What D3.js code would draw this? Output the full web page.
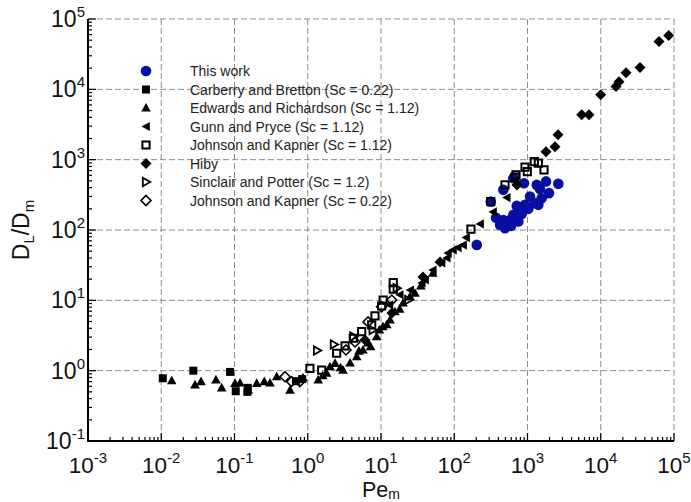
<!DOCTYPE html>
<html><head><meta charset="utf-8">
<script src="https://cdn.jsdelivr.net/npm/d3@7"></script>
<style>
body{margin:0;background:#fff}
svg{display:block;font-family:Arial,"Liberation Sans",sans-serif}
</style>
</head><body>
<svg id="c" width="691" height="502"></svg>
<script>
// ---- data ----
const xTickExps = [-3,-2,-1,0,1,2,3,4,5];
const yTickExps = [-1,0,1,2,3,4,5];
const seriesNames = [
  "This work",
  "Carberry and Bretton (Sc = 0.22)",
  "Edwards and Richardson (Sc = 1.12)",
  "Gunn and Pryce (Sc = 1.12)",
  "Johnson and Kapner (Sc = 1.12)",
  "Hiby",
  "Sinclair and Potter (Sc = 1.2)",
  "Johnson and Kapner (Sc = 0.22)"
];
const thisWork = [[203,61.4],[315,253],[468,372],[640,546],[896,463],[1336,438],[1790,491],[2634,453],[1482,384],[1082,299],[1966,334],[1563,283],[713,220],[925,228],[1265,241],[790,183],[1026,200],[640,164],[834,169],[577,139],[750,132],[468,139],[422,118],[493,106],[372,149],[1406,228],[596,114]];
const carberry = [[0.0105,0.78],[0.0274,1.0],[0.087,0.96],[0.104,0.51],[0.150,0.50],[0.152,0.57],[0.69,0.71],[0.84,0.76]];
const edwards = [[0.0139,0.72],[0.0289,0.63],[0.0349,0.70],[0.0558,0.74],[0.0668,0.57],[0.1016,0.66],[0.119,0.67],[0.154,0.53],[0.201,0.66],[0.255,0.70],[0.305,0.67],[0.377,0.82],[0.573,0.53],[0.86,0.79],[1.39,0.74],[1.81,0.92],[2.01,1.14],[2.36,1.27],[3.03,1.02],[3.78,1.29],[4.66,1.58],[5.68,1.97],[6.65,2.48],[8.73,3.05],[10.6,4.23],[13.3,5.26],[15.5,6.9],[20,9.2],[24.9,11.3],[29.1,12.6],[51,24.3],[1.6,0.85],[2.8,1.1],[5.0,1.9],[7.2,2.2],[9.5,3.8],[12,4.5],[18,7.5],[35,16]];
const gunn = [[13,8.6],[18,12],[25,14],[36,17.7],[40,19.5],[51,27],[67,34],[79,40],[82,47],[96,52],[112,56],[132,61],[145,78],[225,122],[338,181],[520,289]];
const johnson112 = [[1.07,1.08],[1.55,1.02],[2.48,1.77],[3.23,2.25],[4.19,2.89],[5.45,3.59],[7.46,4.47],[8.28,6.0],[10.2,8.3],[10.7,10.1],[14.7,17.9],[14.7,14.4],[169,103],[315,253],[493,438],[675,564],[697,608],[925,782],[994,677],[1239,940],[1406,892],[1680,716]];
const hiby = [[6.05,2.73],[14.1,6.6],[37.4,21.5],[64,35.2],[719,438],[1790,1291],[2373,1521],[2608,2254],[5495,4335],[6918,4335],[9980,8356],[16150,10960],[17750,12790],[22130,17170],[34360,20420],[62400,47860],[84700,58210]];
const sinclair = [[1.34,1.93],[2.28,2.36],[4.19,3.05],[7.7,3.79],[16.4,14.9],[23.6,10.1]];
const johnson022 = [[0.49,0.82],[0.60,0.70],[0.78,0.70],[3.33,1.97],[4.42,2.56],[6.65,4.93],[10.2,8.1],[14.0,10.1]];

// ---- layout ----
const L = 88, R = 674, T = 19, B = 441;
const svg = d3.select("#c");
const x = d3.scaleLog().domain([1e-3,1e5]).range([L,R]);
const y = d3.scaleLog().domain([1e-1,1e5]).range([B,T]);
const BLUE = "#0a0fa3";

// grid
const grid = svg.append("g").attr("stroke","#8c8c8c").attr("stroke-width",1).attr("stroke-dasharray","6,3");
xTickExps.forEach(e=>{ if(e>-3) grid.append("line").attr("x1",x(10**e)).attr("x2",x(10**e)).attr("y1",T).attr("y2",B); });
yTickExps.forEach(e=>{ if(e>-1) grid.append("line").attr("y1",y(10**e)).attr("y2",y(10**e)).attr("x1",L).attr("x2",R); });

// ticks (inward)
const tk = svg.append("g").attr("stroke","#000").attr("stroke-width",1.2);
for(let e=-3;e<=5;e++){
  tk.append("line").attr("x1",x(10**e)).attr("x2",x(10**e)).attr("y1",B).attr("y2",B-8);
  if(e<5) for(let m=2;m<=9;m++){ const v=m*10**e; tk.append("line").attr("x1",x(v)).attr("x2",x(v)).attr("y1",B).attr("y2",B-4); }
}
for(let e=-1;e<=5;e++){
  tk.append("line").attr("y1",y(10**e)).attr("y2",y(10**e)).attr("x1",L).attr("x2",L+8);
  if(e<5) for(let m=2;m<=9;m++){ const v=m*10**e; tk.append("line").attr("y1",y(v)).attr("y2",y(v)).attr("x1",L).attr("x2",L+4); }
}
// axis lines
svg.append("line").attr("x1",L).attr("x2",L).attr("y1",T).attr("y2",B+1).attr("stroke","#000").attr("stroke-width",2);
svg.append("line").attr("x1",L-1).attr("x2",R).attr("y1",B).attr("y2",B).attr("stroke","#000").attr("stroke-width",2);

// tick labels
function pow10(sel, e){
  sel.append("tspan").text("10");
  sel.append("tspan").attr("dy",-10).attr("font-size",15).text(e);
}
xTickExps.forEach(e=>{
  const t = svg.append("text").attr("x",x(10**e)).attr("y",473).attr("text-anchor","middle").attr("font-size",22.5).attr("fill","#111");
  pow10(t,e);
});
yTickExps.forEach(e=>{
  const t = svg.append("text").attr("x",85).attr("y",y(10**e)+8).attr("text-anchor","end").attr("font-size",23).attr("fill","#111");
  pow10(t,e);
});

// axis titles
const xt = svg.append("text").attr("x",381).attr("y",497).attr("text-anchor","middle").attr("font-size",21.5).attr("fill","#111");
xt.append("tspan").text("Pe");
xt.append("tspan").attr("dy",1.5).attr("font-size",14).text("m");
const yt = svg.append("text").attr("transform","translate(29,230) rotate(-90)").attr("text-anchor","middle").attr("font-size",23).attr("fill","#111");
yt.append("tspan").text("D");
yt.append("tspan").attr("dy",5).attr("font-size",15).text("L");
yt.append("tspan").attr("dy",-5).text("/D");
yt.append("tspan").attr("dy",5).attr("font-size",15).text("m");

// markers
const shapes = [
  {d:"M-5.3,0a5.3,5.3 0 1,0 10.6,0a5.3,5.3 0 1,0 -10.6,0Z", fill:BLUE, stroke:"none"},
  {d:"M-4,-4H4V4H-4Z", fill:"#000", stroke:"none"},
  {d:"M0,-5L4.8,3.6H-4.8Z", fill:"#000", stroke:"none"},
  {d:"M-4.5,0L3.8,-4.6V4.6Z", fill:"#000", stroke:"none"},
  {d:"M-3.6,-3.6H3.6V3.6H-3.6Z", fill:"none", stroke:"#000", sw:2},
  {d:"M0,-5.5L5.5,0L0,5.5L-5.5,0Z", fill:"#000", stroke:"none"},
  {d:"M-3.2,-4.2L4.2,0L-3.2,4.2Z", fill:"none", stroke:"#000", sw:1.8},
  {d:"M0,-5L5,0L0,5L-5,0Z", fill:"none", stroke:"#000", sw:1.6}
];
const allSeries = [thisWork, carberry, edwards, gunn, johnson112, hiby, sinclair, johnson022];
const plot = svg.append("g");
allSeries.forEach((s,i)=>{
  const sh = shapes[i];
  plot.append("g").selectAll("path").data(s).join("path")
    .attr("transform",d=>`translate(${x(d[0])},${y(d[1])})`)
    .attr("d",sh.d).attr("fill",sh.fill).attr("stroke",sh.stroke).attr("stroke-width",sh.sw||0);
});

// legend
const lg = svg.append("g");
seriesNames.forEach((n,i)=>{
  const yy = 71 + i*18.5;
  const sh = shapes[i];
  lg.append("path").attr("transform",`translate(146,${yy})`).attr("d",sh.d)
    .attr("fill",sh.fill).attr("stroke",sh.stroke).attr("stroke-width",sh.sw||0);
  lg.append("text").attr("x",190).attr("y",yy+5).attr("font-size",14).attr("fill","#222").text(n);
});
</script>
</body></html>
